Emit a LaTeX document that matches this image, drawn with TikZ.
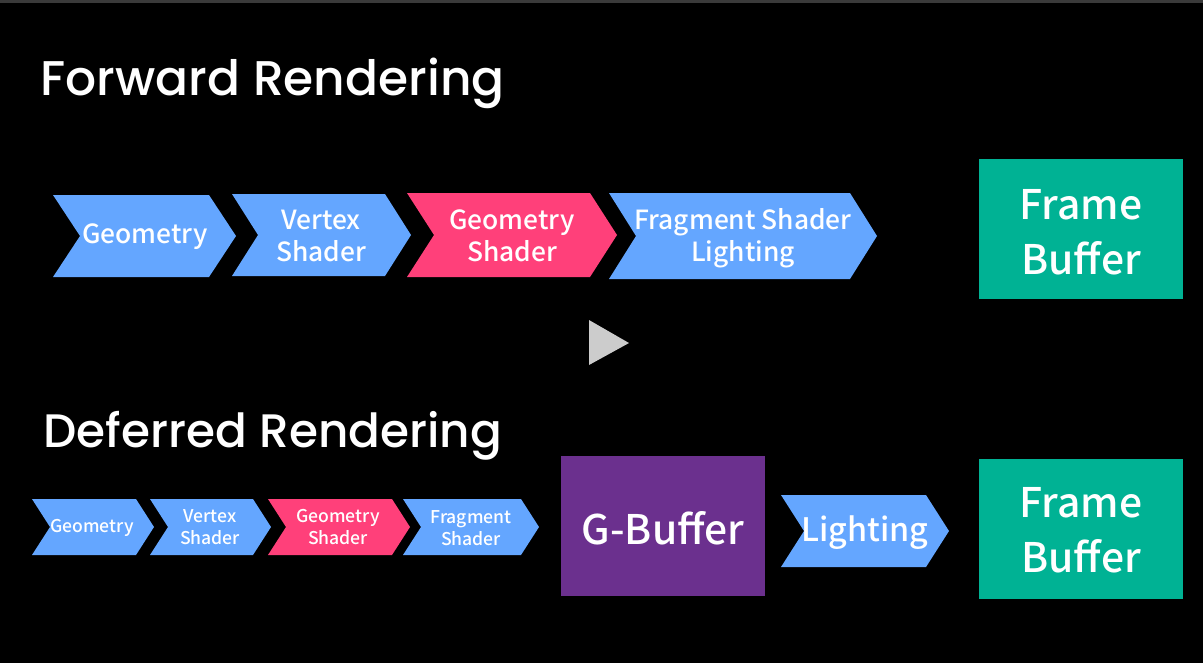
\documentclass[tikz,border=0pt]{standalone}
\usepackage{fontspec}
\setmainfont{Noto Sans CJK SC}[BoldFont={Noto Sans CJK SC Medium}]
\newfontfamily\titlefont{Poppins}[BoldFont={Poppins Medium}]
\usetikzlibrary{positioning, calc}

\definecolor{chevblue}{RGB}{100,166,255}
\definecolor{chevpink}{RGB}{255,64,122}
\definecolor{gbufpurple}{RGB}{107,48,142}
\definecolor{fbteal}{RGB}{0,178,148}
\definecolor{playgray}{RGB}{204,204,204}
\definecolor{edgegray}{RGB}{58,58,58}

% chevron: left x, tip x, centre y, half height, notch depth, colour
\newcommand{\chevron}[6]{%
  \fill[#6] (#1,{#3-#4}) -- ({#2-#5},{#3-#4}) -- (#2,#3)
    -- ({#2-#5},{#3+#4}) -- (#1,{#3+#4}) -- ({#1+#5},#3) -- cycle;}

\tikzset{
  lbl/.style={text=white, align=center, inner sep=0pt},
  bigtxt/.style={lbl, font=\fontsize{11.6}{15.6}\selectfont\bfseries},
  midtxt/.style={lbl, font=\fontsize{7.5}{9.1}\selectfont\bfseries},
  smalltxt/.style={lbl, font=\fontsize{5}{6.2}\selectfont\bfseries},
  title/.style={text=white, anchor=base west, inner sep=0pt}
}

\begin{document}
\begin{tikzpicture}[x=0.01cm, y=-0.01cm]
        % Background
        \fill[black] (0,0) rectangle (1203,663);
        \fill[edgegray] (0,0) rectangle (1203,3);

        % Forward rendering
        \node[title, font=\fontsize{13.85}{16}\selectfont\titlefont\bfseries] (fwd) at (40,95) {Forward Rendering};

        \chevron{53}{236}{236}{41}{27}{chevblue}
        \chevron{232}{411}{235}{41}{26}{chevblue}
        \chevron{407}{617}{235}{42}{27}{chevpink}
        \chevron{609}{877}{236}{43}{27}{chevblue}
        \node[midtxt] (geo) at (145,237) {Geometry};
        \node[midtxt] (vert) at (321,236) {Vertex\\Shader};
        \node[midtxt] (gsh) at (512,236) {Geometry\\Shader};
        \node[midtxt] (frag) at (743,238) {Fragment Shader\\Lighting};

        \fill[fbteal] (979,159) rectangle (1183,299);
        \node[bigtxt] (fb) at (1081,232) {Frame\\Buffer};

        % Play mark
        \fill[playgray] (589,320) -- (629,343) -- (589,365) -- cycle;

        % Deferred rendering
        \node[title, font=\fontsize{13.35}{16}\selectfont\titlefont\bfseries] (dfr) at (43,447) {Deferred Rendering};

        \chevron{32}{154}{527}{28}{18}{chevblue}
        \chevron{150}{271}{527}{28}{18}{chevblue}
        \chevron{268}{410}{527}{28}{18}{chevpink}
        \chevron{403}{539}{527}{28}{18}{chevblue}
        \node[smalltxt] (geo2) at (92,528) {Geometry};
        \node[smalltxt] (vert2) at (210,527) {Vertex\\Shader};
        \node[smalltxt] (gsh2) at (338,527) {Geometry\\Shader};
        \node[smalltxt] (frag2) at (471,528) {Fragment\\Shader};

        \fill[gbufpurple] (561,456) rectangle (765,596);
        \node[bigtxt] (gbuf) at (663,528) {G-Buffer};

        \chevron{781}{949}{531}{36}{23}{chevblue}
        \node[lbl, font=\fontsize{9.2}{11}\selectfont\bfseries] (light) at (865,533) {Lighting};

        \fill[fbteal] (979,459) rectangle (1183,599);
        \node[bigtxt] (fb2) at (1081,530) {Frame\\Buffer};
    \end{tikzpicture}
\end{document}
